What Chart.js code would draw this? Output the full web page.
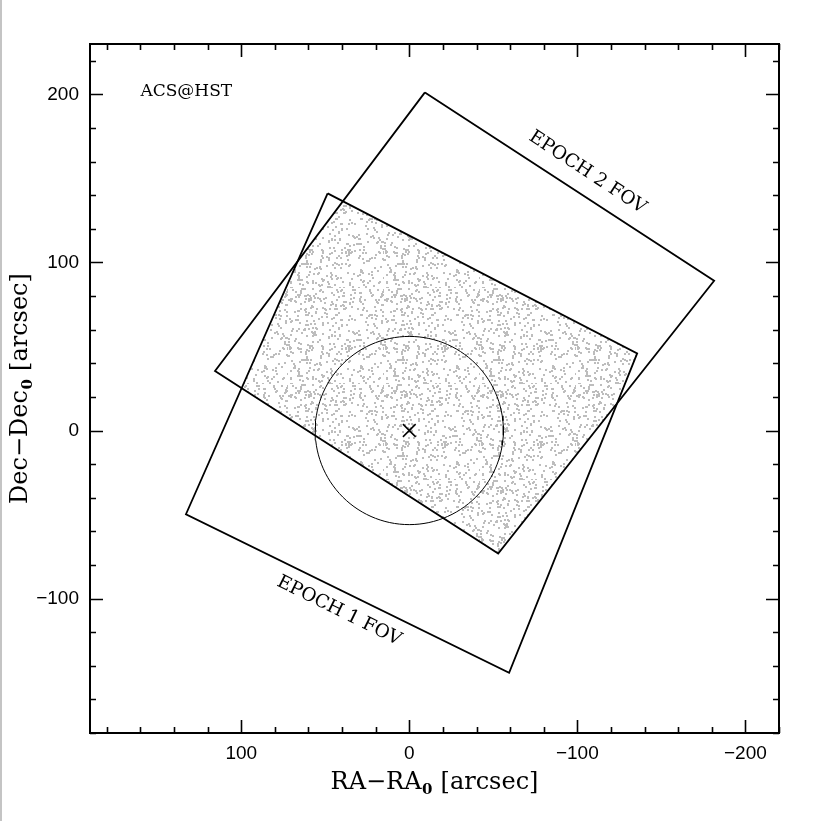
<!DOCTYPE html>
<html><head><meta charset="utf-8">
<script src="https://cdn.jsdelivr.net/npm/chart.js@4/dist/chart.umd.min.js"></script>
<style>
html,body{margin:0;padding:0;background:#fff;}
#wrap{position:relative;width:822px;height:821px;background:#fff;}
#edge{position:absolute;left:0;top:0;width:2px;height:821px;background:#c4c4c4;}
canvas{display:block;}
</style></head><body>
<div id="wrap"><canvas id="c" width="822" height="821"></canvas><div id="edge"></div></div>
<script>
// ---------------- data (arcsec; RA offset grows to the left) ----------------
const EPOCH1_RA  = [48.6, -135.6, -59.4, 132.9];
const EPOCH1_DEC = [141.1, 45.9, -144.2, -49.8];
const EPOCH2_RA  = [-9.3, -181.4, -52.9, 115.6];
const EPOCH2_DEC = [201.2, 89.1, -73.2, 35.4];
const CENTER_RA  = [0];
const CENTER_DEC = [0];
const CIRCLE_RADIUS = 56;
const X_TICK_LABELS = [100, 0, -100, -200];
const Y_TICK_LABELS = [-100, 0, 100, 200];
const LABEL_TEXT = ['ACS@HST', 'EPOCH 2 FOV', 'EPOCH 1 FOV'];
const X_TITLE = ['RA\u2212RA', '0', ' [arcsec]'];   // main, subscript, rest
const Y_TITLE = ['Dec\u2212Dec', '0', ' [arcsec]'];

// ---------------- placement / style ----------------
const LABEL_PLACE = [
  {x: 160, y: 201.4, angle: 0, align: 'left', size: 17},
  {x: -106.0, y: 153.5, angle: 33.2, align: 'center', size: 18.5},
  {x: 41.8, y: -107.4, angle: 26.2, align: 'center', size: 18.5}
];

const toPts = (xs, ys) => xs.map((x, i) => ({x: x, y: ys[i]}));
const closed = pts => pts.concat([pts[0]]);

// overlap of the two fields (convex clip)
function clipPoly(subject, clip) {
  let area = 0;
  for (let i = 0; i < clip.length; i++) {
    const a = clip[i], b = clip[(i + 1) % clip.length];
    area += a.x * b.y - b.x * a.y;
  }
  const sgn = Math.sign(area);
  const inside = (p, a, b) => sgn * ((b.x - a.x) * (p.y - a.y) - (b.y - a.y) * (p.x - a.x)) >= 0;
  const inter = (p, q, a, b) => {
    const cr = (u, v) => u.x * v.y - u.y * v.x;
    const d = {x: q.x - p.x, y: q.y - p.y}, e = {x: b.x - a.x, y: b.y - a.y};
    const t = cr({x: a.x - p.x, y: a.y - p.y}, e) / cr(d, e);
    return {x: p.x + t * d.x, y: p.y + t * d.y};
  };
  let out = subject.slice();
  for (let j = 0; j < clip.length; j++) {
    const a = clip[j], b = clip[(j + 1) % clip.length];
    const inp = out; out = [];
    for (let i = 0; i < inp.length; i++) {
      const cur = inp[i], prev = inp[(i + inp.length - 1) % inp.length];
      if (inside(cur, a, b)) {
        if (!inside(prev, a, b)) out.push(inter(prev, cur, a, b));
        out.push(cur);
      } else if (inside(prev, a, b)) {
        out.push(inter(prev, cur, a, b));
      }
    }
  }
  return out;
}

const ep1 = toPts(EPOCH1_RA, EPOCH1_DEC);
const ep2 = toPts(EPOCH2_RA, EPOCH2_DEC);
const overlap = clipPoly(ep1, ep2);
const circle = [];
for (let k = 0; k <= 120; k++) {
  const t = 2 * Math.PI * k / 120;
  circle.push({x: CENTER_RA[0] + CIRCLE_RADIUS * Math.cos(t), y: CENTER_DEC[0] + CIRCLE_RADIUS * Math.sin(t)});
}

// speckle texture used as the fill of the overlap area
function speckle(ctx) {
  const t = document.createElement('canvas');
  t.width = t.height = 96;
  const g = t.getContext('2d');
  g.fillStyle = '#bdbdbd';
  let s = 12345;
  for (let i = 0; i < 460; i++) {
    s = (s * 16807) % 2147483647; const x = s % 96;
    s = (s * 16807) % 2147483647; const y = s % 96;
    g.fillRect(x, y, 2, 2);
  }
  return ctx.createPattern(t, 'repeat');
}

const fmt = v => (v < 0 ? '\u2212' : '') + Math.abs(v);

function drawTitle(ctx, parts, cx, cy, rot) {
  const big = '24px "DejaVu Serif"', small = 'bold 15px "DejaVu Serif"';
  ctx.save();
  ctx.translate(cx, cy);
  ctx.rotate(rot);
  ctx.textBaseline = 'alphabetic';
  ctx.textAlign = 'left';
  ctx.font = big; const w0 = ctx.measureText(parts[0]).width, w2 = ctx.measureText(parts[2]).width;
  ctx.font = small; const w1 = ctx.measureText(parts[1]).width + 1;
  let x = -(w0 + w1 + w2) / 2;
  const base = 8;
  ctx.font = big; ctx.fillText(parts[0], x, base); x += w0;
  ctx.font = small; ctx.fillText(parts[1], x + 0.5, base + 5); x += w1;
  ctx.font = big; ctx.fillText(parts[2], x, base);
  ctx.restore();
}

const framePlugin = {
  id: 'frame',
  afterDatasetsDraw(chart) {
    const ctx = chart.ctx, {left, right, top, bottom} = chart.chartArea;
    const xs = chart.scales.x, ys = chart.scales.y;
    ctx.save();
    ctx.strokeStyle = '#000';
    ctx.lineWidth = 1.6;
    ctx.beginPath();
    for (let v = -220; v <= 190; v += 20) {
      const p = Math.round(xs.getPixelForValue(v)) + 0.5;
      const len = v % 100 === 0 ? 13 : 6;
      ctx.moveTo(p, bottom); ctx.lineTo(p, bottom - len);
      ctx.moveTo(p, top); ctx.lineTo(p, top + len);
    }
    for (let v = -180; v <= 230; v += 20) {
      const p = Math.round(ys.getPixelForValue(v)) + 0.5;
      const len = v % 100 === 0 ? 13 : 6;
      ctx.moveTo(left, p); ctx.lineTo(left + len, p);
      ctx.moveTo(right, p); ctx.lineTo(right - len, p);
    }
    ctx.stroke();
    ctx.lineWidth = 2;
    ctx.strokeRect(left, top, right - left, bottom - top);
    // text labels
    ctx.fillStyle = '#000';
    ctx.textBaseline = 'middle';
    LABEL_TEXT.forEach((txt, i) => {
      const pl = LABEL_PLACE[i];
      ctx.save();
      ctx.font = pl.size + 'px "DejaVu Serif"';
      ctx.translate(xs.getPixelForValue(pl.x), ys.getPixelForValue(pl.y));
      ctx.rotate(pl.angle * Math.PI / 180);
      ctx.textAlign = pl.align;
      ctx.fillText(txt, 0, 0);
      ctx.restore();
    });
    // axis titles with true subscripts
    drawTitle(ctx, X_TITLE, (left + right) / 2, 781, 0);
    drawTitle(ctx, Y_TITLE, 19, (top + bottom) / 2, -Math.PI / 2);
    ctx.restore();
  }
};

const canvas = document.getElementById('c');
const ctx = canvas.getContext('2d');

new Chart(ctx, {
  type: 'scatter',
  data: {
    datasets: [
      {label: 'center', data: toPts(CENTER_RA, CENTER_DEC), pointStyle: 'crossRot', pointRadius: 9,
       borderColor: '#000', borderWidth: 1.5, showLine: false, order: 1},
      {label: 'circle', data: circle, showLine: true, borderColor: '#000', borderWidth: 1,
       pointRadius: 0, fill: false, order: 2},
      {label: 'EPOCH 1 FOV', data: closed(ep1), showLine: true, borderColor: '#000', borderWidth: 1.8,
       pointRadius: 0, fill: false, order: 3},
      {label: 'EPOCH 2 FOV', data: closed(ep2), showLine: true, borderColor: '#000', borderWidth: 1.8,
       pointRadius: 0, fill: false, order: 4},
      {label: 'overlap', data: closed(overlap), showLine: true, borderWidth: 0, borderColor: 'rgba(0,0,0,0)',
       backgroundColor: speckle(ctx), pointRadius: 0, fill: 'shape', order: 10}
    ]
  },
  options: {
    responsive: false,
    animation: false,
    layout: {padding: {left: 0, right: 43, top: 44, bottom: 0}},
    plugins: {legend: {display: false}, tooltip: {enabled: false}},
    scales: {
      x: {
        type: 'linear', position: 'bottom', min: -220, max: 190, reverse: true,
        grid: {display: false, drawTicks: false}, border: {display: false},
        ticks: {stepSize: 20, autoSkip: false, maxRotation: 0, minRotation: 0, padding: 9, color: '#000',
                font: {family: 'Liberation Sans', size: 19},
                callback: v => X_TICK_LABELS.includes(v) ? fmt(v) : ''},
        title: {display: false},
        afterFit: s => { s.height = 88; }
      },
      y: {
        type: 'linear', position: 'left', min: -180, max: 230,
        grid: {display: false, drawTicks: false}, border: {display: false},
        ticks: {stepSize: 20, autoSkip: false, padding: 11, color: '#000',
                font: {family: 'Liberation Sans', size: 19},
                callback: v => Y_TICK_LABELS.includes(v) ? fmt(v) : ''},
        title: {display: false},
        afterFit: s => { s.width = 90; }
      }
    }
  },
  plugins: [framePlugin]
});
</script>
</body></html>
